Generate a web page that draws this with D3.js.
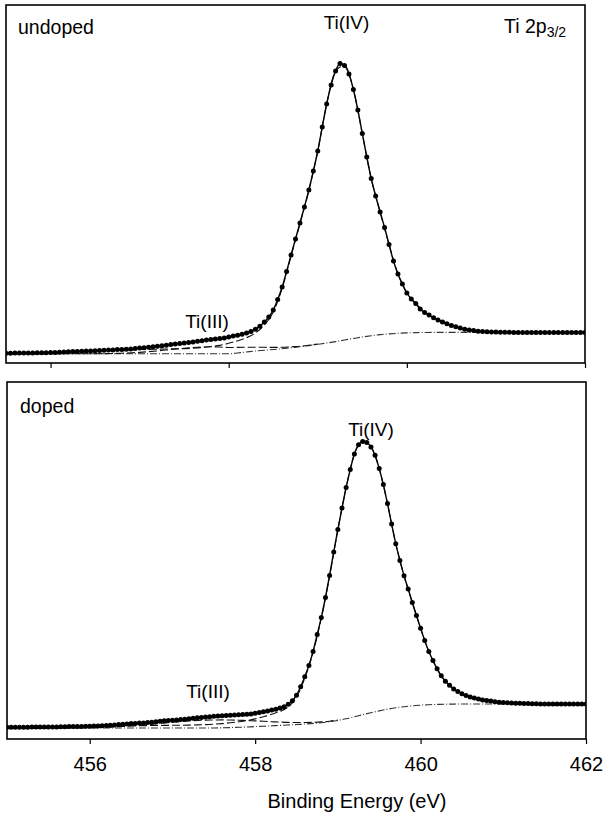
<!DOCTYPE html>
<html><head><meta charset="utf-8">
<script src="https://cdn.jsdelivr.net/npm/d3@7"></script>
<style>
body{margin:0;background:#fff}
svg{display:block}
text{font-family:"Liberation Sans",Arial,Helvetica,sans-serif;fill:#000}
</style>
</head><body>
<svg id="chart" width="603" height="814"></svg>
<script>
// ---------- DATA (binding energy grid: start + step, intensities in arbitrary units) ----------
const topStart = 455.5, botStart = 455.0, dataStep = 0.05, compStep = 0.1;
const xTicks = [456, 458, 460, 462];
const xTickLabels = ["456", "458", "460", "462"];
const panelLabels = ["undoped", "doped"];

// measured points, undoped (455.50 … 462.00, every 0.05 eV)
const undopedData = [
  9.7, 9.8, 9.9, 10.0, 10.1, 10.1, 10.1, 10.2, 10.3, 10.3,
  10.4, 10.6, 10.8, 11.0, 11.2, 11.4, 11.6, 11.7, 11.9, 12.1,
  12.3, 12.5, 12.7, 12.9, 13.1, 13.4, 13.6, 13.8, 14.1, 14.5,
  14.9, 15.3, 15.7, 16.2, 16.7, 17.3, 17.8, 18.4, 18.9, 19.5,
  20.0, 20.6, 21.1, 21.7, 22.3, 22.9, 23.5, 23.9, 24.4, 25.1,
  26.0, 26.9, 27.8, 28.8, 30.0, 31.6, 33.8, 36.8, 40.9, 46.0,
  53.0, 63.5, 76.0, 91.5, 108, 124, 140, 156, 173, 192,
  212, 236, 259, 278, 292, 299.5, 297.5, 289, 273.5, 253,
  229.5, 206, 184.5, 167, 151, 135.5, 118.5, 102, 89, 79,
  70, 64, 59.5, 54, 50.6, 47.9, 45.3, 43.0, 41.0, 39.3,
  37.6, 36.2, 34.9, 33.8, 33.1, 32.5, 31.8, 31.4, 31.2, 31.0,
  30.9, 30.8, 30.7, 30.7, 30.6, 30.6, 30.6, 30.5, 30.6, 30.5,
  30.5, 30.5, 30.5, 30.5, 30.4, 30.5, 30.5, 30.5, 30.4, 30.5,
  30.5
];
// undoped fit components (455.5 … 462.0, every 0.1 eV)
const undopedBackground = [
  9.2, 9.2, 9.2, 9.2, 9.2, 9.2, 9.2, 9.2, 9.2, 9.2,
  9.2, 9.2, 9.2, 9.2, 9.2, 9.2, 9.2, 9.2, 9.2, 9.2,
  9.2, 9.2, 9.2, 9.2, 9.2, 9.2, 10.0, 11.0, 12.0, 12.8,
  13.5, 14.3, 15.3, 16.2, 17.4, 18.7, 20.0, 21.4, 23.0, 24.5,
  26.0, 27.3, 28.4, 29.1, 29.7, 30.1, 30.4, 30.5, 30.6, 30.6,
  30.6, 30.6, 30.6, 30.6, 30.6, 30.6, 30.6, 30.6, 30.6, 30.6,
  30.6, 30.6, 30.6, 30.6, 30.6, 30.6
];
const undopedTi3 = [ // 455.5 … 459.0
  9.2, 9.2, 9.2, 9.2, 9.2, 9.2, 9.2, 9.2, 9.2, 9.3,
  9.3, 9.4, 9.55, 9.8, 10.15, 10.6, 11.3, 12.1, 13.0, 13.9,
  14.8, 15.5, 16.0, 16.2, 16.0, 15.5, 15.6, 15.7, 15.8, 15.7,
  15.6, 15.7, 16.25, 16.8, 17.75, 18.9
];
const undopedTi4 = [
  9.7, 9.9, 10.1, 10.1, 10.3, 10.4, 10.8, 11.2, 11.6, 11.85,
  12.2, 12.5, 12.75, 13.0, 13.15, 13.5, 13.6, 13.8, 14.0, 14.2,
  14.4, 14.8, 15.5, 16.5, 17.6, 19.7, 22.2, 25.3, 30.0, 38.0,
  50.9, 74.6, 107, 139.4, 172.6, 211.8, 259, 292, 297.5, 273.5,
  229.5, 184.5, 151, 118.5, 89, 70, 59.5, 50.6, 45.3, 41.0,
  37.6, 34.9, 33.1, 31.8, 31.2, 30.9, 30.7, 30.6, 30.5, 30.6,
  30.5, 30.5, 30.5, 30.5, 30.5, 30.5
];

// measured points, doped (455.00 … 462.00, every 0.05 eV)
const dopedData = [
  11.7, 11.7, 11.8, 11.8, 11.8, 11.8, 11.9, 11.9, 11.9, 12.0,
  12.0, 12.0, 12.1, 12.2, 12.3, 12.4, 12.5, 12.5, 12.6, 12.7,
  12.8, 12.9, 13.0, 13.2, 13.5, 13.8, 14.1, 14.4, 14.7, 15.0,
  15.4, 15.6, 15.9, 16.1, 16.4, 16.7, 17.2, 17.7, 18.2, 18.6,
  18.8, 19.1, 19.4, 19.7, 20.2, 20.7, 21.2, 21.6, 22.0, 22.3,
  22.7, 23.1, 23.3, 23.6, 23.8, 24.1, 24.3, 24.6, 24.8, 25.1,
  25.8, 26.4, 27.2, 28.0, 28.9, 29.7, 30.9, 32.2, 34.8, 38.3,
  43.8, 52.2, 62.3, 73.6, 87.6, 104.4, 121.6, 141.5, 163.5, 187,
  209.5, 231, 251.5, 269.5, 285.1, 294.3, 297.6, 296.5, 292.1, 283.8,
  270.4, 254.4, 235.4, 215.0, 195.3, 178.6, 163.3, 150, 136.5, 123.5,
  110.8, 98.5, 87.4, 78.4, 70.2, 63.2, 57.8, 53.7, 50.1, 47.5,
  45.3, 43.6, 42.0, 41.1, 40.1, 39.1, 38.5, 37.9, 37.3, 36.7,
  36.4, 36.2, 36.0, 35.8, 35.7, 35.5, 35.4, 35.2, 35.2, 35.1,
  35.1, 35.1, 35.1, 35.0, 35.1, 35.0, 35.0, 35.0, 35.0, 35.0,
  35.0
];
// doped fit components (455.0 … 462.0, every 0.1 eV)
const dopedBackground = [
  11.0, 11.0, 11.0, 11.0, 11.0, 11.0, 11.0, 11.0, 11.0, 11.0,
  11.0, 11.0, 11.0, 11.0, 11.0, 11.0, 11.0, 11.0, 11.0, 11.0,
  11.0, 11.0, 11.0, 11.0, 11.0, 11.0, 11.2, 11.4, 11.7, 12.0,
  12.4, 12.8, 13.2, 13.6, 14.0, 14.5, 15.0, 15.6, 16.3, 17.3,
  18.6, 20.2, 22.2, 24.3, 26.3, 28.1, 29.8, 31.2, 32.3, 33.2,
  33.8, 34.3, 34.6, 34.8, 34.9, 35.0, 35.0, 35.0, 35.0, 35.0,
  35.0, 35.0, 35.0, 35.0, 35.0, 35.0, 35.0, 35.0, 35.0, 35.0,
  35.0
];
const dopedTi3 = [ // 455.0 … 459.0
  11.0, 11.0, 11.0, 11.0, 11.0, 11.0, 11.1, 11.1, 11.1, 11.2,
  11.4, 11.5, 11.8, 12.1, 12.5, 13.0, 13.6, 14.3, 15.1, 15.9,
  16.7, 17.4, 18.1, 18.6, 18.9, 19.0, 19.1, 19.0, 18.8, 18.4,
  18.1, 17.7, 17.3, 16.9, 16.6, 16.5, 16.5, 16.7, 17.1, 17.8,
  19.0
];
const dopedTi4 = [
  11.7, 11.8, 11.8, 11.9, 11.9, 12.0, 12.0, 12.2, 12.4, 12.4,
  12.45, 12.5, 12.7, 13.0, 13.2, 13.2, 13.3, 13.4, 13.5, 13.6,
  13.7, 13.8, 13.9, 14.1, 14.4, 14.8, 15.4, 16.2, 17.2, 18.4,
  20.1, 22.3, 24.8, 27.6, 32.2, 41.8, 60.8, 86.5, 120.8, 162.7,
  209.3, 251.3, 285.0, 297.6, 292.1, 270.4, 235.4, 195.3, 163.3, 136.5,
  110.8, 87.4, 70.2, 57.8, 50.1, 45.3, 42.0, 40.1, 38.5, 37.3,
  36.4, 36.0, 35.7, 35.4, 35.2, 35.1, 35.1, 35.0, 35.0, 35.0,
  35.0
];

// ---------- DRAWING ----------
const pts = (start, step, vals) => vals.map((v, i) => ({ e: +(start + i * step).toFixed(2), v }));

const panels = [
  { label: panelLabels[0], box: { l: 6, r: 585, t: 5, b: 363 }, xDom: [455.5, 462], yMax: 358,
    data: pts(topStart, dataStep, undopedData),
    bg: pts(topStart, compStep, undopedBackground),
    t3: pts(topStart, compStep, undopedTi3),
    t4: pts(topStart, compStep, undopedTi4),
    showLabels: false,
    labelPos: { x: 18, y: 33.5 }, ti4: { x: 346.5, y: 28.5 }, ti3: { x: 207, y: 328 } },
  { label: panelLabels[1], box: { l: 7, r: 586, t: 382, b: 739 }, xDom: [455, 462], yMax: 357,
    data: pts(botStart, dataStep, dopedData),
    bg: pts(botStart, compStep, dopedBackground),
    t3: pts(botStart, compStep, dopedTi3),
    t4: pts(botStart, compStep, dopedTi4),
    showLabels: true,
    labelPos: { x: 20, y: 412.5 }, ti4: { x: 371, y: 436 }, ti3: { x: 208, y: 698 } }
];

const svg = d3.select("#chart");
svg.append("rect").attr("width", 603).attr("height", 814).attr("fill", "#fff");

panels.forEach((p, k) => {
  const x = d3.scaleLinear().domain(p.xDom).range([p.box.l, p.box.r]);
  const y = d3.scaleLinear().domain([0, p.yMax]).range([p.box.b, p.box.t]);
  const g = svg.append("g");

  const clipId = "clip" + k;
  svg.append("clipPath").attr("id", clipId).append("rect")
    .attr("x", p.box.l).attr("y", p.box.t)
    .attr("width", p.box.r - p.box.l).attr("height", p.box.b - p.box.t);
  const plot = g.append("g").attr("clip-path", `url(#${clipId})`);

  const line = d3.line().x(d => x(d.e)).y(d => y(d.v)).curve(d3.curveMonotoneX);

  // Shirley background
  plot.append("path").datum(p.bg).attr("d", line)
    .attr("fill", "none").attr("stroke", "#333").attr("stroke-width", 1.1)
    .attr("stroke-dasharray", "7,2,1,2");
  // Ti(III) component
  plot.append("path").datum(p.t3).attr("d", line)
    .attr("fill", "none").attr("stroke", "#111").attr("stroke-width", 1.1)
    .attr("stroke-dasharray", "8,3");
  // Ti(IV) component
  plot.append("path").datum(p.t4).attr("d", line)
    .attr("fill", "none").attr("stroke", "#111").attr("stroke-width", 1.1)
    .attr("stroke-dasharray", "8,3");
  // envelope through the measured points
  plot.append("path").datum(p.data).attr("d", line)
    .attr("fill", "none").attr("stroke", "#000").attr("stroke-width", 1.4);
  // measured points
  plot.selectAll("circle.pt").data(p.data).enter().append("circle")
    .attr("class", "pt").attr("cx", d => x(d.e)).attr("cy", d => y(d.v))
    .attr("r", 2.5).attr("fill", "#000");

  // frame
  g.append("rect").attr("x", p.box.l).attr("y", p.box.t)
    .attr("width", p.box.r - p.box.l).attr("height", p.box.b - p.box.t)
    .attr("fill", "none").attr("stroke", "#000").attr("stroke-width", 1.6);

  // x axis
  const axis = d3.axisBottom(x).tickValues(xTicks).tickSize(5).tickPadding(13)
    .tickFormat((d, i) => p.showLabels ? xTickLabels[i] : "");
  const ax = g.append("g").attr("transform", `translate(0,${p.box.b})`).call(axis);
  ax.select(".domain").remove();
  ax.selectAll(".tick line").attr("stroke", "#000").attr("stroke-width", 1.2);
  ax.selectAll(".tick text").attr("font-size", 20)
    .attr("font-family", '"Liberation Sans",Arial,sans-serif').attr("fill", "#000");

  // labels
  g.append("text").attr("x", p.labelPos.x).attr("y", p.labelPos.y)
    .attr("font-size", 19.5).text(p.label);
  g.append("text").attr("x", p.ti4.x).attr("y", p.ti4.y).attr("text-anchor", "middle")
    .attr("font-size", 19).text("Ti(IV)");
  g.append("text").attr("x", p.ti3.x).attr("y", p.ti3.y).attr("text-anchor", "middle")
    .attr("font-size", 19).text("Ti(III)");
});

// core level label
const lvl = svg.append("text").attr("x", 504).attr("y", 33).attr("font-size", 19.5);
lvl.append("tspan").text("Ti 2p");
lvl.append("tspan").attr("font-size", 14).attr("dy", 4).text("3/2");

// axis title
svg.append("text").attr("x", 357).attr("y", 808).attr("text-anchor", "middle")
  .attr("font-size", 20).text("Binding Energy (eV)");
</script>
</body></html>
